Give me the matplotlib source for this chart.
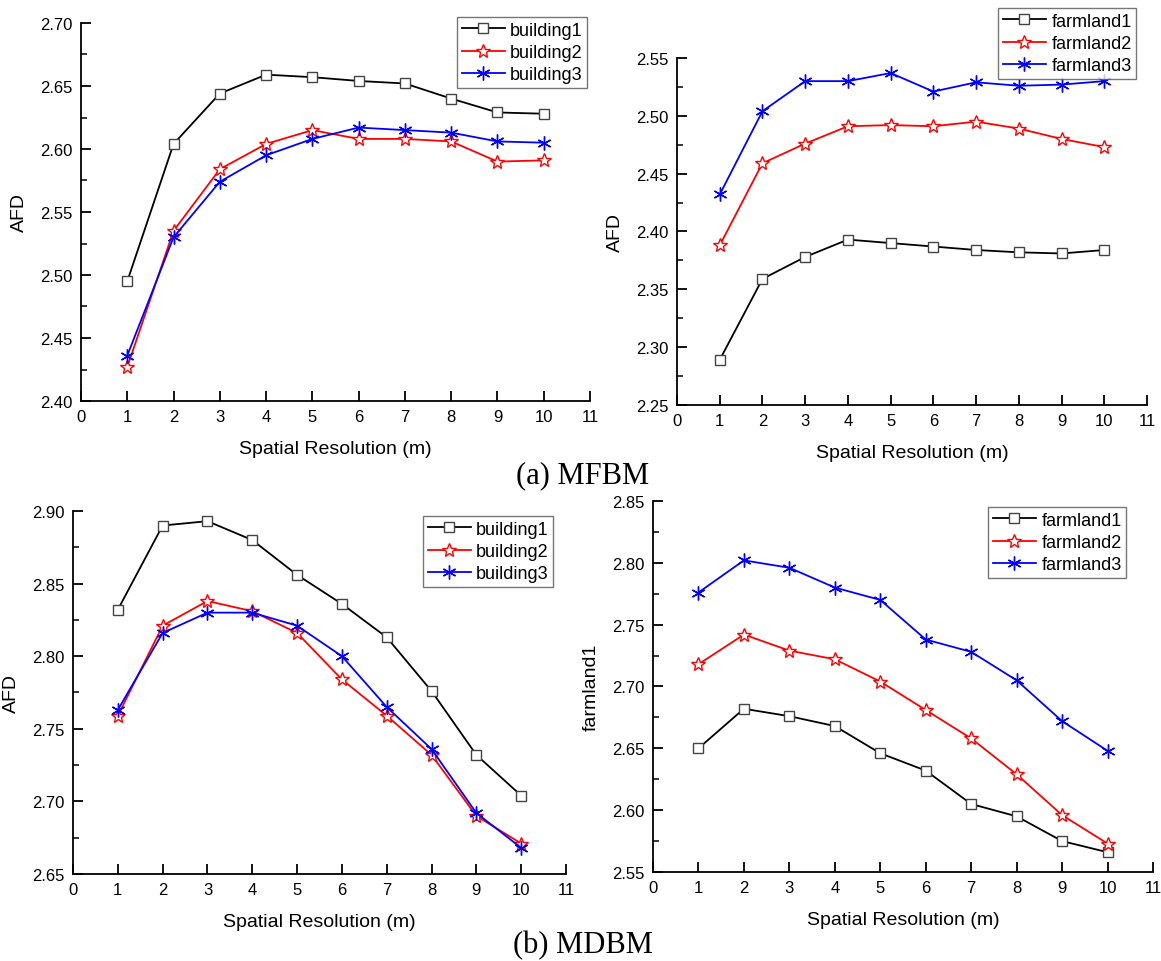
import matplotlib
matplotlib.use("Agg")
import matplotlib.pyplot as plt
from matplotlib.ticker import MultipleLocator, FormatStrFormatter

plt.rcParams['font.family'] = ['Liberation Sans', 'DejaVu Sans']

res = [1, 2, 3, 4, 5, 6, 7, 8, 9, 10]

# (a) MFBM
mfbm_building1 = [2.495, 2.604, 2.644, 2.659, 2.657, 2.654, 2.652, 2.640, 2.629, 2.628]
mfbm_building2 = [2.427, 2.535, 2.584, 2.604, 2.615, 2.608, 2.608, 2.606, 2.590, 2.591]
mfbm_building3 = [2.436, 2.530, 2.574, 2.595, 2.608, 2.617, 2.615, 2.613, 2.606, 2.605]
mfbm_farmland1 = [2.289, 2.359, 2.378, 2.393, 2.390, 2.387, 2.384, 2.382, 2.381, 2.384]
mfbm_farmland2 = [2.388, 2.459, 2.476, 2.491, 2.492, 2.491, 2.495, 2.489, 2.480, 2.473]
mfbm_farmland3 = [2.432, 2.504, 2.530, 2.530, 2.537, 2.521, 2.529, 2.526, 2.527, 2.530]

# (b) MDBM
mdbm_building1 = [2.832, 2.890, 2.893, 2.880, 2.856, 2.836, 2.813, 2.776, 2.732, 2.704]
mdbm_building2 = [2.759, 2.821, 2.838, 2.831, 2.816, 2.784, 2.759, 2.732, 2.690, 2.671]
mdbm_building3 = [2.763, 2.816, 2.830, 2.830, 2.821, 2.800, 2.765, 2.736, 2.692, 2.668]
mdbm_farmland1 = [2.650, 2.682, 2.676, 2.668, 2.646, 2.632, 2.605, 2.595, 2.575, 2.566]
mdbm_farmland2 = [2.718, 2.742, 2.729, 2.722, 2.704, 2.681, 2.658, 2.629, 2.596, 2.573]
mdbm_farmland3 = [2.776, 2.802, 2.796, 2.780, 2.770, 2.738, 2.728, 2.705, 2.672, 2.648]

W, H = 1161, 962
fig = plt.figure(figsize=(W / 100, H / 100), dpi=100)


def px_axes(left, top, right, bottom):
    return fig.add_axes([left / W, 1 - bottom / H, (right - left) / W, (bottom - top) / H])


def draw(ax, series, names, ylim, ylabel, leg_xy):
    styles = [
        dict(color='black', marker='s', ms=6.5, mfc='white', mec='#444444', mew=1.0),
        dict(color='red', marker='*', ms=10, mfc='white', mec='red', mew=1.0),
        dict(color='blue', marker=(6, 2, 0), ms=10, mec='blue', mew=1.0),
    ]
    for y, name, st in zip(series, names, styles):
        ax.plot(res, y, lw=1.3, label=name, **st)
    ax.set_xlim(0, 11)
    ax.set_ylim(*ylim)
    ax.set_xticks(range(0, 12))
    ax.yaxis.set_major_locator(MultipleLocator(0.05))
    ax.yaxis.set_minor_locator(MultipleLocator(0.025))
    ax.yaxis.set_major_formatter(FormatStrFormatter('%.2f'))
    ax.spines['top'].set_visible(False)
    ax.spines['right'].set_visible(False)
    for s in ('left', 'bottom'):
        ax.spines[s].set_linewidth(1.3)
    ax.tick_params(which='major', direction='in', length=7, width=1.3, labelsize=12, pad=6)
    ax.tick_params(which='minor', direction='in', length=4, width=1.1)
    ax.set_xlabel('Spatial Resolution (m)', fontsize=14, labelpad=11)
    ax.set_ylabel(ylabel, fontsize=14, labelpad=9)
    leg = ax.legend(loc='upper left', bbox_to_anchor=(leg_xy[0] / W, 1 - leg_xy[1] / H),
                    bbox_transform=fig.transFigure, fontsize=13, frameon=True,
                    fancybox=False, edgecolor='#555555', borderpad=0.25,
                    labelspacing=0.3, handlelength=2.4, handletextpad=0.3,
                    borderaxespad=0)
    leg.get_frame().set_linewidth(1.0)


ax1 = px_axes(81, 24, 590, 402)
draw(ax1, [mfbm_building1, mfbm_building2, mfbm_building3],
     ['building1', 'building2', 'building3'], (2.40, 2.70), 'AFD', (457, 18))

ax2 = px_axes(677, 59, 1147, 406)
draw(ax2, [mfbm_farmland1, mfbm_farmland2, mfbm_farmland3],
     ['farmland1', 'farmland2', 'farmland3'], (2.25, 2.55), 'AFD', (998, 9))

ax3 = px_axes(73, 512, 566, 875)
draw(ax3, [mdbm_building1, mdbm_building2, mdbm_building3],
     ['building1', 'building2', 'building3'], (2.65, 2.90), 'AFD', (423, 517))

ax4 = px_axes(653, 502, 1153, 873)
draw(ax4, [mdbm_farmland1, mdbm_farmland2, mdbm_farmland3],
     ['farmland1', 'farmland2', 'farmland3'], (2.55, 2.85), 'farmland1', (988, 508))

fig.text(0.502, 1 - 476 / H, '(a) MFBM', ha='center', va='center',
         family='Liberation Serif', fontsize=22)
fig.text(0.502, 1 - 946 / H, '(b) MDBM', ha='center', va='center',
         family='Liberation Serif', fontsize=22)

fig.savefig('out.png', dpi=100)
